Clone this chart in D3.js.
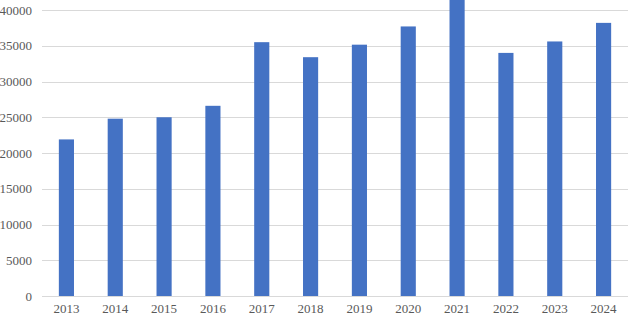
<!DOCTYPE html>
<html>
<head>
<meta charset="utf-8">
<script src="https://cdn.jsdelivr.net/npm/d3@7"></script>
<style>
  html, body { margin: 0; padding: 0; background: #fff; }
  svg { display: block; }
  .tick text { font-family: "Liberation Serif", "Times New Roman", serif; font-size: 13px; fill: #595959; }
</style>
</head>
<body>
<svg id="chart" width="628" height="316"></svg>
<script>
// Data
const years = ['2013', '2014', '2015', '2016', '2017', '2018', '2019', '2020', '2021', '2022', '2023', '2024'];
const values = [21900, 24800, 25000, 26600, 35500, 33400, 35150, 37700, 41600, 34000, 35600, 38200];
const yTicks = [0, 5000, 10000, 15000, 20000, 25000, 30000, 35000, 40000];

(function() {
  const svg = d3.select('#chart');
  const width = +svg.attr('width');
  const height = +svg.attr('height');
  const margin = { top: 10, right: 0, bottom: 20, left: 42 };

  const x = d3.scaleBand().domain(years).range([margin.left, width - margin.right]).paddingInner(0.69).paddingOuter(0.345);
  const y = d3.scaleLinear().domain([0, 40000]).range([height - margin.bottom, margin.top]);

  // gridlines
  svg.append('g').attr('class', 'grid').selectAll('line').data(yTicks).enter().append('line')
    .attr('x1', margin.left).attr('x2', width - margin.right)
    .attr('y1', d => Math.round(y(d)) + 0.5).attr('y2', d => Math.round(y(d)) + 0.5)
    .attr('stroke', '#d9d9d9').attr('stroke-width', 1);

  // bars
  svg.append('g').selectAll('rect').data(years).enter().append('rect')
    .attr('x', d => x(d))
    .attr('width', x.bandwidth())
    .attr('y', (d, i) => y(values[i]))
    .attr('height', (d, i) => y(0) - y(values[i]))
    .attr('fill', '#4472c4');

  // y axis labels
  const yAxis = svg.append('g').attr('transform', `translate(${margin.left},0)`)
    .call(d3.axisLeft(y).tickValues(yTicks).tickSize(0).tickPadding(10).tickFormat(d => String(d)));
  yAxis.select('.domain').remove();

  // x axis labels
  const xAxis = svg.append('g').attr('transform', `translate(0,${y(0)})`)
    .call(d3.axisBottom(x).tickSize(0).tickPadding(8));
  xAxis.select('.domain').remove();
})();
</script>
</body>
</html>
